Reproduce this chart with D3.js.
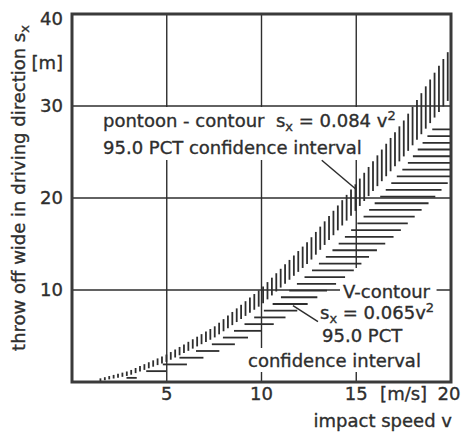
<!DOCTYPE html>
<html>
<head>
<meta charset="utf-8">
<script src="https://cdn.jsdelivr.net/npm/d3@7"></script>
<style>
  body { margin: 0; background: #fff; }
  text { font-family: "DejaVu Sans", sans-serif; fill: #2e2e2e; stroke: #2e2e2e; stroke-width: 0.35; white-space: pre; }
</style>
</head>
<body>
<div id="chart"></div>
<script>
// axis ticks
var xTicks = [5, 10, 15, 20];
var yTicks = [10, 20, 30, 40];
var xGrid = [5, 10, 15];
var yGrid = [10, 20, 30];

// pontoon-contour sx = 0.084 v^2, 95 % band, read by speed v [m/s]
var ponV  = [1.5, 3, 5, 7.5, 10, 12.5, 15, 17.5, 20];
var ponLo = [0.1, 0.7, 2.2, 4.8, 8.4, 13.0, 18.7, 24.5, 31.0];
var ponHi = [0.4, 1.2, 3.0, 6.0, 10.2, 15.4, 21.6, 28.4, 36.4];

// V-contour sx = 0.065 v^2, 95 % band, read by throw sx [m]
var vSx    = [0.4, 1, 2, 4, 6, 8, 10, 12, 14, 16, 18, 20, 22, 24, 26, 28];
var vLeft  = [2.8, 3.7, 4.9, 7.3, 8.9, 10.3, 11.5, 12.6, 13.6, 14.5, 15.4, 16.2, 17.0, 17.8, 18.5, 19.2];
var vRight = [3.3, 4.7, 6.2, 8.5, 10.4, 12.1, 13.5, 14.8, 15.9, 17.1, 18.1, 19.1, 20.0, 20.9, 21.7, 22.6];

var margin = {top: 14, right: 11, bottom: 52, left: 72},
    width = 462 - margin.left - margin.right,
    height = 434 - margin.top - margin.bottom;

var ink = "#2e2e2e";

var svg = d3.select("#chart").append("svg")
    .attr("width", 462)
    .attr("height", 434);

svg.append("defs").append("clipPath").attr("id", "plotclip")
  .append("rect").attr("width", width).attr("height", height);

var g = svg.append("g")
    .attr("transform", "translate(" + margin.left + "," + margin.top + ")");

var x = d3.scaleLinear().domain([0, 20]).range([0, width]);
var y = d3.scaleLinear().domain([0, 40]).range([height, 0]);

// grid lines
g.append("g").selectAll("line").data(xGrid).enter().append("line")
    .attr("x1", function(d) { return x(d); })
    .attr("x2", function(d) { return x(d); })
    .attr("y1", 0).attr("y2", height)
    .attr("stroke", ink).attr("stroke-width", 1.4);

g.append("g").selectAll("line").data(yGrid).enter().append("line")
    .attr("y1", function(d) { return y(d); })
    .attr("y2", function(d) { return y(d); })
    .attr("x1", 0).attr("x2", width)
    .attr("stroke", ink).attr("stroke-width", 1.4);

// white patches behind the labels (filled in later)
var knock = g.append("g");

// hatched bands
var hatch = g.append("g").attr("clip-path", "url(#plotclip)")
    .attr("stroke", ink).attr("stroke-width", 1.8);

var ponLoS = d3.scaleLinear().domain(ponV).range(ponLo);
var ponHiS = d3.scaleLinear().domain(ponV).range(ponHi);
var vLines = d3.range(ponV[0], 20, 0.232);

hatch.selectAll(".vh").data(vLines).enter().append("line")
    .attr("class", "vh")
    .attr("x1", function(d) { return x(d); })
    .attr("x2", function(d) { return x(d); })
    .attr("y1", function(d) { return y(ponLoS(d)); })
    .attr("y2", function(d) { return y(ponHiS(d)); });

var vLeftS = d3.scaleLinear().domain(vSx).range(vLeft);
var vRightS = d3.scaleLinear().domain(vSx).range(vRight);
var hLines = d3.range(vSx[0] + 0.05, 28, 0.73);

hatch.selectAll(".hh").data(hLines).enter().append("line")
    .attr("class", "hh")
    .attr("y1", function(d) { return y(d); })
    .attr("y2", function(d) { return y(d); })
    .attr("x1", function(d) { return x(vLeftS(d)); })
    .attr("x2", function(d) { return x(vRightS(d)); });

// text helper: parts = [[string, kind]], kind: "n" normal, "sub", "sup"
function label(parent, px, py, parts, anchor) {
  var t = parent.append("text")
      .attr("x", px).attr("y", py)
      .attr("font-size", 18)
      .attr("text-anchor", anchor || "start");
  var shift = 0;
  parts.forEach(function(p) {
    var want = p[1] == "sub" ? 4 : (p[1] == "sup" ? -7 : 0);
    t.append("tspan")
        .attr("dy", want - shift)
        .attr("font-size", p[1] == "n" ? 18 : 13)
        .text(p[0]);
    shift = want;
  });
  return t;
}

function patch(t, pad) {
  var b = t.node().getBBox();
  knock.append("rect")
      .attr("x", b.x - pad[0])
      .attr("y", b.y - pad[1])
      .attr("width", b.width + pad[0] + pad[2])
      .attr("height", b.height + pad[1] + pad[3])
      .attr("fill", "#fff");
}

var notes = g.append("g");

// pontoon-contour note
var p1 = label(notes, 31, 113, [["pontoon - contour  s", "n"], ["x", "sub"], [" = 0.084 v", "n"], ["2", "sup"]]);
var p2 = label(notes, 31, 140, [["95.0 PCT confidence interval", "n"]]);
patch(p1, [4, 1, 4, 2]);
patch(p2, [4, 2, 4, 2]);

// V-contour note
var q1 = label(notes, 271, 284, [["V-contour", "n"]]);
var q2 = label(notes, 248, 305, [["s", "n"], ["x", "sub"], [" = 0.065v", "n"], ["2", "sup"]]);
var q3 = label(notes, 250, 328, [["95.0 PCT", "n"]]);
var q4 = label(notes, 176, 353, [["confidence interval", "n"]]);
patch(q1, [3, 13, 6, 2]);
patch(q2, [3, 2, 12, 2]);
patch(q3, [3, 2, 40, 3]);
patch(q4, [4, 2, 4, 1]);

// leader lines
var leaders = [
  [[13.18, 24.1], [15.02, 20.9]],
  [[11.66, 8.3], [12.98, 6.55]]
];
g.append("g").selectAll("line").data(leaders).enter().append("line")
    .attr("x1", function(d) { return x(d[0][0]); })
    .attr("y1", function(d) { return y(d[0][1]); })
    .attr("x2", function(d) { return x(d[1][0]); })
    .attr("y2", function(d) { return y(d[1][1]); })
    .attr("stroke", ink).attr("stroke-width", 1.5);

// frame
g.append("rect")
    .attr("width", width).attr("height", height)
    .attr("fill", "none").attr("stroke", "#3a3a3a").attr("stroke-width", 3);

// tick labels
g.append("g").selectAll("text").data(xTicks).enter().append("text")
    .attr("x", function(d) { return x(d) - (d == 20 ? 2 : 0); })
    .attr("y", height + 18)
    .attr("font-size", 18)
    .attr("text-anchor", "middle")
    .text(function(d) { return d; });

g.append("g").selectAll("text").data(yTicks).enter().append("text")
    .attr("x", -9)
    .attr("y", function(d) { return y(d); })
    .attr("dy", function(d) { return d == 40 ? "0.6em" : "0.36em"; })
    .attr("font-size", 18)
    .attr("text-anchor", "end")
    .text(function(d) { return d; });

// units and axis titles
g.append("text").attr("x", -9).attr("y", y(34.7)).attr("dy", "0.36em")
    .attr("font-size", 18).attr("text-anchor", "end").text("[m]");
g.append("text").attr("x", x(17.5)).attr("y", height + 18)
    .attr("font-size", 18).attr("text-anchor", "middle").text("[m/s]");
g.append("text").attr("x", width + 1).attr("y", height + 45)
    .attr("font-size", 18).attr("text-anchor", "end").text("impact speed v");

var yl = label(g, 0, 0, [["throw off wide in driving direction s", "n"], ["x", "sub"]], "middle");
yl.attr("transform", "translate(" + (25 - margin.left) + "," + (188 - margin.top) + ") rotate(-90)");
</script>
</body>
</html>
